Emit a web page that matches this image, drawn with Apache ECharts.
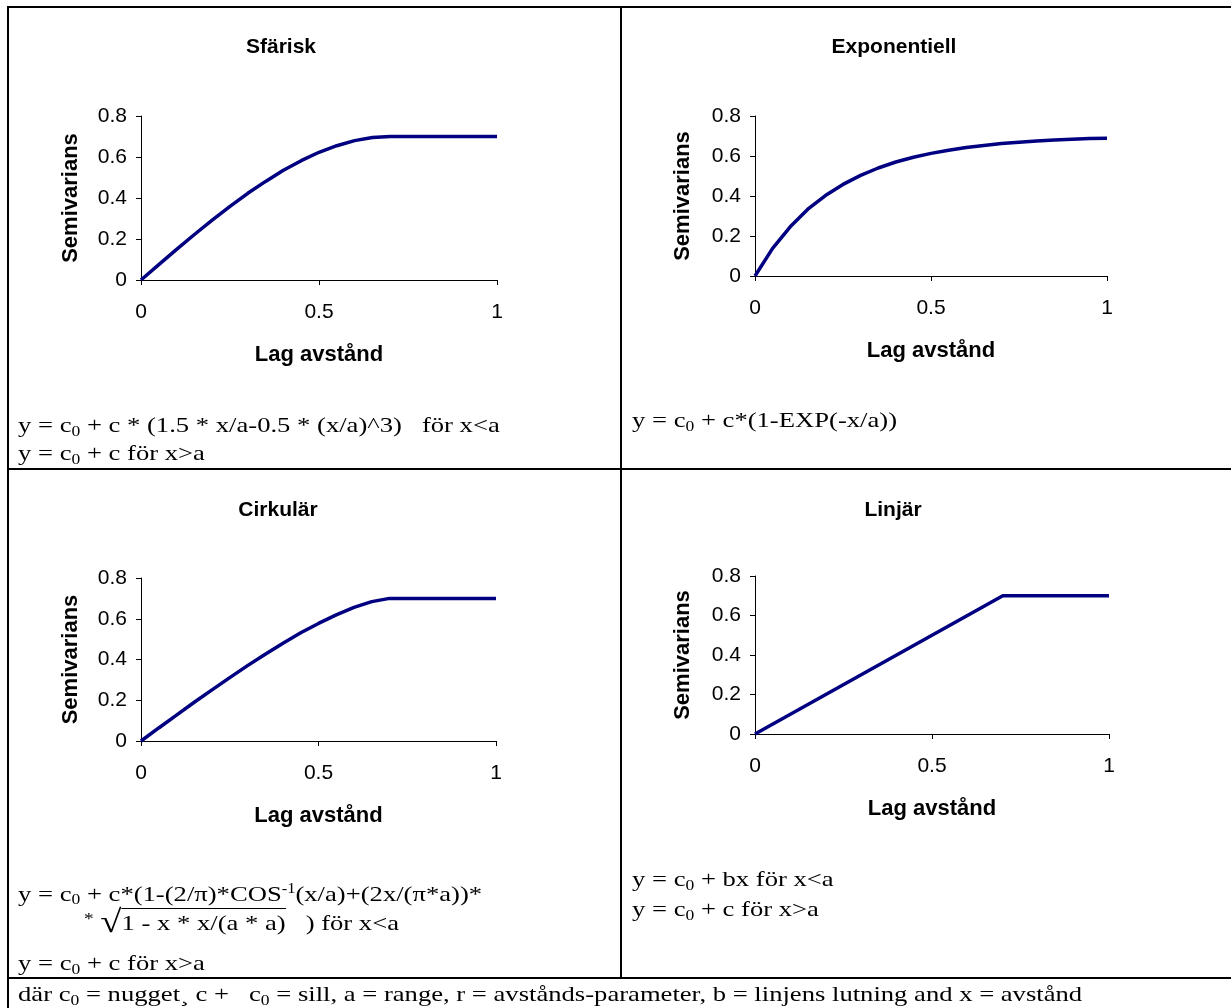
<!DOCTYPE html>
<html>
<head>
<meta charset="utf-8">
<script src="https://cdn.jsdelivr.net/npm/echarts@6/dist/echarts.min.js"></script>
<style>
  body { margin: 0; background: #fff; }
  #box { position: absolute; left: 0; top: 0; width: 1231px; height: 1008px; }
  .ln { position: absolute; background: #000; }
  .f { position: absolute; font-family: "Liberation Serif", "Times New Roman", serif; font-size: 22px;
       line-height: 26px; white-space: pre; color: #000; transform: scaleX(1.21); transform-origin: 0 50%; }
  .s { font-size: 0.66em; vertical-align: -0.25em; }
  .p { font-size: 0.62em; vertical-align: 0.55em; }
</style>
</head>
<body>
<div id="box"></div>

<!-- tabellens ramar -->
<div class="ln" style="left:7px;top:6px;width:1224px;height:2px"></div>
<div class="ln" style="left:7px;top:6px;width:2px;height:1002px"></div>
<div class="ln" style="left:620px;top:6px;width:2px;height:973px"></div>
<div class="ln" style="left:7px;top:468px;width:1224px;height:2px"></div>
<div class="ln" style="left:7px;top:977px;width:1224px;height:2px"></div>

<!-- formler -->
<div class="f" style="left:18px;top:412px">y = c<span class="s">0</span> + c * (1.5 * x/a-0.5 * (x/a)^3)   för x&lt;a</div>
<div class="f" style="left:18px;top:440px">y = c<span class="s">0</span> + c för x&gt;a</div>
<div class="f" style="left:632px;top:407px">y = c<span class="s">0</span> + c*(1-EXP(-x/a))</div>
<div class="f" style="left:18px;top:876px">y = c<span class="s">0</span> + c*(1-(2/π)*COS<span class="p">-1</span>(x/a)+(2x/(π*a))*</div>
<div class="f" style="left:84px;top:906px"><span style="font-size:16px;vertical-align:0.35em">*</span> <span style="font-size:32px;vertical-align:-0.08em">√</span><span style="border-top:1.5px solid #000;padding-top:1px">1 - x * x/(a * a)</span>   ) för x&lt;a</div>
<div class="f" style="left:18px;top:950px">y = c<span class="s">0</span> + c för x&gt;a</div>
<div class="f" style="left:632px;top:866px">y = c<span class="s">0</span> + bx för x&lt;a</div>
<div class="f" style="left:632px;top:896px">y = c<span class="s">0</span> + c för x&gt;a</div>
<div class="f" style="left:18px;top:981px">där c<span class="s">0</span> = nugget¸ c +   c<span class="s">0</span> = sill, a = range, r = avstånds-parameter, b = linjens lutning and x = avstånd</div>

<script>
// x-värden (lag avstånd)
const lagX = [0, 0.05, 0.1, 0.15, 0.2, 0.25, 0.3, 0.35, 0.4, 0.45, 0.5,
  0.55, 0.6, 0.65, 0.7, 0.75, 0.8, 0.85, 0.9, 0.95, 1.0];

// semivarians
const sfariskY = [0, 0.075, 0.149, 0.222, 0.292, 0.359, 0.423, 0.481, 0.535, 0.582, 0.623,
  0.655, 0.680, 0.695, 0.700, 0.700, 0.700, 0.700, 0.700, 0.700, 0.700];
const exponentiellY = [0, 0.138, 0.246, 0.334, 0.402, 0.458, 0.503, 0.540, 0.570, 0.594, 0.613,
  0.629, 0.643, 0.653, 0.662, 0.669, 0.675, 0.680, 0.684, 0.687, 0.689];
const cirkularY = [0, 0.064, 0.127, 0.190, 0.251, 0.311, 0.370, 0.426, 0.480, 0.531, 0.577,
  0.619, 0.656, 0.684, 0.700, 0.700, 0.700, 0.700, 0.700, 0.700, 0.700];
const linjarX = [0, 0.7, 1];
const linjarY = [0, 0.7, 0.7];

const titles = ["Sfärisk", "Exponentiell", "Cirkulär", "Linjär"];
const xTicks = [0, 0.5, 1];
const yTicks = [0, 0.2, 0.4, 0.6, 0.8];

// placering av diagrammen i tabellen
const grids = [
  { left: 141, top: 116, width: 356, height: 164 },
  { left: 755, top: 116, width: 352, height: 160 },
  { left: 141, top: 578, width: 355, height: 163 },
  { left: 755, top: 576, width: 354, height: 158 }
];
const titlePos = [[281, 47], [894, 47], [278, 510], [893, 510]];
const yNameGap = [59, 61, 59, 61];

const sans = "Liberation Sans, Arial, sans-serif";
const pairs = (xs, ys) => xs.map((x, i) => [x, ys[i]]);
const seriesData = [
  pairs(lagX, sfariskY),
  pairs(lagX, exponentiellY),
  pairs(lagX, cirkularY),
  pairs(linjarX, linjarY)
];

var myChart = echarts.init(document.getElementById("box"), null, { renderer: "canvas" });
let option = {
  animation: false,
  textStyle: { fontFamily: sans, color: "#000" },
  title: titles.map((t, i) => ({
    text: t,
    left: titlePos[i][0],
    top: titlePos[i][1],
    padding: 0,
    textAlign: "center",
    textVerticalAlign: "middle",
    textStyle: { fontFamily: sans, fontSize: 21, fontWeight: "bold", color: "#000" }
  })),
  grid: grids.map((g) => Object.assign({ outerBoundsMode: "none", containLabel: false }, g)),
  xAxis: grids.map((g, i) => ({
    type: "value",
    gridIndex: i,
    min: xTicks[0],
    max: xTicks[xTicks.length - 1],
    interval: 0.5,
    name: "Lag avstånd",
    nameLocation: "middle",
    nameGap: 64,
    nameTextStyle: { fontFamily: sans, fontSize: 22, fontWeight: "bold", color: "#000" },
    axisLine: { show: true, lineStyle: { color: "#000", width: 1 } },
    axisTick: { show: true, inside: false, length: 5, lineStyle: { color: "#000" } },
    axisLabel: { fontFamily: sans, fontSize: 21, color: "#000", margin: 22 },
    splitLine: { show: false }
  })),
  yAxis: grids.map((g, i) => ({
    type: "value",
    gridIndex: i,
    min: yTicks[0],
    max: yTicks[yTicks.length - 1],
    interval: 0.2,
    name: "Semivarians",
    nameLocation: "middle",
    nameGap: yNameGap[i],
    nameTextStyle: { fontFamily: sans, fontSize: 22, fontWeight: "bold", color: "#000" },
    axisLine: { show: true, lineStyle: { color: "#000", width: 1 } },
    axisTick: { show: true, inside: false, length: 5, lineStyle: { color: "#000" } },
    axisLabel: { fontFamily: sans, fontSize: 21, color: "#000", margin: 14 },
    splitLine: { show: false }
  })),
  series: seriesData.map((d, i) => ({
    type: "line",
    xAxisIndex: i,
    yAxisIndex: i,
    data: d,
    symbol: "none",
    clip: false,
    lineStyle: { color: "#000080", width: 3.5 }
  }))
};
myChart.setOption(option);
</script>
</body>
</html>
